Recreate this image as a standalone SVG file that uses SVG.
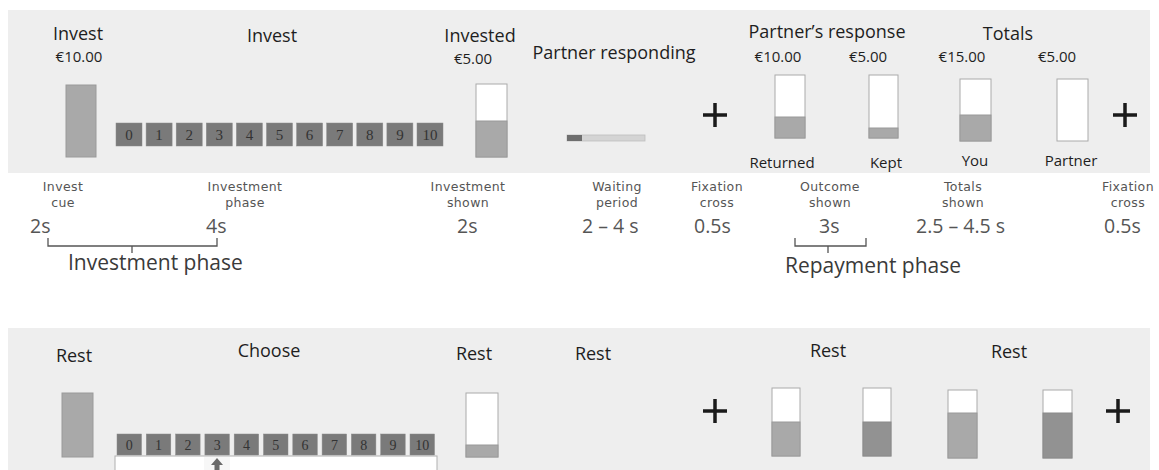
<svg xmlns="http://www.w3.org/2000/svg" width="1159" height="470" viewBox="0 0 1159 470">
<style>
.panel{fill:#eeeeee}
.hd{font-family:"Open Sans","Liberation Sans",sans-serif;font-size:18px;fill:#1e1e1e}
.val{font-family:"Open Sans","Liberation Sans",sans-serif;font-size:15px;fill:#1e1e1e}
.box{fill:#7a7a7a;stroke:#8a8a8a;stroke-width:0.5}
.num{font-family:"Liberation Serif",serif;font-size:15px;fill:#333;text-anchor:middle}
.num2{font-family:"Liberation Serif",serif;font-size:14px;fill:#333;text-anchor:middle}
.full{fill:#a9a9a9;stroke:#9a9a9a;stroke-width:1}
.dark{fill:#929292;stroke:#8a8a8a;stroke-width:1}
.empty{fill:#ffffff;stroke:#aaaaaa;stroke-width:1}
.plus{stroke:#1a1a1a;stroke-width:3.5;fill:none}
.lbl{font-family:"DejaVu Sans","Liberation Sans",sans-serif;font-size:12.5px;fill:#555;text-anchor:middle;letter-spacing:0.4px}
.tm{font-family:"Open Sans","Liberation Sans",sans-serif;font-size:19.5px;fill:#555}
.ph{font-family:"Open Sans","Liberation Sans",sans-serif;font-size:21px;fill:#3a3a3a}
.br{stroke:#555;stroke-width:1.3;fill:none}
.mid{text-anchor:middle}
</style>
<rect width="1159" height="470" fill="#ffffff"/>

<g id="top-panel">
<rect class="panel" x="8" y="10" width="1142" height="163"/>
</g>
<g id="invest-cue">
<text class="hd mid" x="78" y="40">Invest</text>
<text class="val mid" x="79" y="62">€10.00</text>
<rect class="full" x="66" y="85" width="30" height="72"/>
</g>
<g id="invest-choice">
<text class="hd mid" x="272" y="42">Invest</text>
<g>
<rect class="box" x="116" y="123" width="26" height="23"/><text class="num" x="129" y="140">0</text>
<rect class="box" x="146.1" y="123" width="26" height="23"/><text class="num" x="159.1" y="140">1</text>
<rect class="box" x="176.2" y="123" width="26" height="23"/><text class="num" x="189.2" y="140">2</text>
<rect class="box" x="206.3" y="123" width="26" height="23"/><text class="num" x="219.3" y="140">3</text>
<rect class="box" x="236.4" y="123" width="26" height="23"/><text class="num" x="249.4" y="140">4</text>
<rect class="box" x="266.5" y="123" width="26" height="23"/><text class="num" x="279.5" y="140">5</text>
<rect class="box" x="296.6" y="123" width="26" height="23"/><text class="num" x="309.6" y="140">6</text>
<rect class="box" x="326.7" y="123" width="26" height="23"/><text class="num" x="339.7" y="140">7</text>
<rect class="box" x="356.8" y="123" width="26" height="23"/><text class="num" x="369.8" y="140">8</text>
<rect class="box" x="386.9" y="123" width="26" height="23"/><text class="num" x="399.9" y="140">9</text>
<rect class="box" x="417" y="123" width="26" height="23"/><text class="num" x="430" y="140">10</text>
</g>
</g>
<g id="invested">
<text class="hd mid" x="480" y="42">Invested</text>
<text class="val mid" x="473" y="64">€5.00</text>
<rect class="empty" x="476" y="84" width="31" height="73"/>
<rect class="full" x="476" y="121" width="31" height="36"/>
</g>
<g id="partner-responding">
<text class="hd mid" x="614" y="59">Partner responding</text>
<rect x="567" y="135" width="78" height="6" fill="#d4d4d4" stroke="#bdbdbd" stroke-width="0.8"/>
<rect x="567" y="135" width="15" height="6" fill="#6e6e6e"/>
</g>
<g id="fixation-1">
<path class="plus" d="M703,115 H727 M715,103 V127"/>
</g>
<g id="partners-response">
<text class="hd mid" x="827" y="38">Partner’s response</text>
<text class="val mid" x="778" y="62">€10.00</text>
<rect class="empty" x="775" y="75" width="30" height="63"/>
<rect class="full" x="775" y="117" width="30" height="21"/>
<text class="val mid" x="782" y="168">Returned</text>
<text class="val mid" x="868" y="62">€5.00</text>
<rect class="empty" x="869" y="75" width="29" height="63"/>
<rect class="full" x="869" y="128" width="29" height="10"/>
<text class="val mid" x="886" y="168">Kept</text>
</g>
<g id="totals">
<text class="hd mid" x="1008" y="40">Totals</text>
<text class="val mid" x="962" y="62">€15.00</text>
<rect class="empty" x="960" y="79" width="31" height="62"/>
<rect class="full" x="960" y="115" width="31" height="26"/>
<text class="val mid" x="975" y="166">You</text>
<text class="val mid" x="1057" y="62">€5.00</text>
<rect class="empty" x="1057" y="79" width="31" height="62"/>
<text class="val mid" x="1071" y="166">Partner</text>
</g>
<g id="fixation-2">
<path class="plus" d="M1113,115 H1137 M1125,103 V127"/>
</g>

<g id="timeline-labels">
<text class="lbl" x="63" y="191">Invest</text><text class="lbl" x="63" y="207">cue</text>
<text class="lbl" x="245" y="191">Investment</text><text class="lbl" x="245" y="207">phase</text>
<text class="lbl" x="468" y="191">Investment</text><text class="lbl" x="468" y="207">shown</text>
<text class="lbl" x="617" y="191">Waiting</text><text class="lbl" x="617" y="207">period</text>
<text class="lbl" x="717" y="191">Fixation</text><text class="lbl" x="717" y="207">cross</text>
<text class="lbl" x="830" y="191">Outcome</text><text class="lbl" x="830" y="207">shown</text>
<text class="lbl" x="963" y="191">Totals</text><text class="lbl" x="963" y="207">shown</text>
<text class="lbl" x="1128" y="191">Fixation</text><text class="lbl" x="1128" y="207">cross</text>
</g>
<g id="timings">
<text class="tm" x="30" y="233">2s</text>
<text class="tm" x="206" y="233">4s</text>
<text class="tm" x="457" y="233">2s</text>
<text class="tm" x="582" y="233">2 – 4 s</text>
<text class="tm" x="694" y="233">0.5s</text>
<text class="tm" x="819" y="233">3s</text>
<text class="tm" x="916" y="233">2.5 – 4.5 s</text>
<text class="tm" x="1104" y="233">0.5s</text>
</g>
<g id="connectors">
<path class="br" d="M48,238 V246 H217 V238 M132,246 V253"/>
<path class="br" d="M795,238 V246 H866 V238 M828,246 V253"/>
</g>
<g id="phase-labels">
<text class="ph" x="68" y="270">Investment phase</text>
<text class="ph" x="785" y="273">Repayment phase</text>
</g>

<g id="bottom-panel">
<rect class="panel" x="8" y="328" width="1142" height="142"/>
</g>
<g id="rest-1">
<text class="hd mid" x="74" y="362">Rest</text>
<rect class="full" x="62" y="393" width="31" height="64"/>
</g>
<g id="choose">
<text class="hd mid" x="269" y="357">Choose</text>
<rect x="115" y="456" width="322" height="20" fill="#ffffff" stroke="#b0b0b0" stroke-width="1"/>
<g>
<rect class="box" x="117" y="434" width="24.5" height="21"/><text class="num2" x="129.3" y="450">0</text>
<rect class="box" x="146.3" y="434" width="24.5" height="21"/><text class="num2" x="158.6" y="450">1</text>
<rect class="box" x="175.6" y="434" width="24.5" height="21"/><text class="num2" x="187.9" y="450">2</text>
<rect class="box" x="204.9" y="434" width="24.5" height="21"/><text class="num2" x="217.2" y="450">3</text>
<rect class="box" x="234.2" y="434" width="24.5" height="21"/><text class="num2" x="246.5" y="450">4</text>
<rect class="box" x="263.5" y="434" width="24.5" height="21"/><text class="num2" x="275.8" y="450">5</text>
<rect class="box" x="292.8" y="434" width="24.5" height="21"/><text class="num2" x="305.1" y="450">6</text>
<rect class="box" x="322.1" y="434" width="24.5" height="21"/><text class="num2" x="334.4" y="450">7</text>
<rect class="box" x="351.4" y="434" width="24.5" height="21"/><text class="num2" x="363.7" y="450">8</text>
<rect class="box" x="380.7" y="434" width="24.5" height="21"/><text class="num2" x="393" y="450">9</text>
<rect class="box" x="410" y="434" width="24.5" height="21"/><text class="num2" x="422.3" y="450">10</text>
</g>
<rect x="204" y="457" width="26" height="13" fill="#f7f7f7"/>
<path d="M217,458 L223,465 H219.5 V470 H214.5 V465 H211 Z" fill="#6a6a6a"/>
</g>
<g id="rest-2">
<text class="hd mid" x="474" y="360">Rest</text>
<rect class="empty" x="466" y="393" width="32" height="64"/>
<rect class="full" x="466" y="445" width="32" height="12"/>
</g>
<g id="rest-3">
<text class="hd mid" x="593" y="360">Rest</text>
</g>
<g id="fixation-3">
<path class="plus" d="M703,411 H727 M715,399 V423"/>
</g>
<g id="rest-4">
<text class="hd mid" x="828" y="357">Rest</text>
<rect class="empty" x="772" y="388" width="28" height="68"/>
<rect class="full" x="772" y="422" width="28" height="34"/>
<rect class="empty" x="863" y="388" width="28" height="68"/>
<rect class="dark" x="863" y="422" width="28" height="34"/>
</g>
<g id="rest-5">
<text class="hd mid" x="1009" y="358">Rest</text>
<rect class="empty" x="948" y="390" width="29" height="68"/>
<rect class="full" x="948" y="413" width="29" height="45"/>
<rect class="empty" x="1043" y="390" width="29" height="68"/>
<rect class="dark" x="1043" y="413" width="29" height="45"/>
</g>
<g id="fixation-4">
<path class="plus" d="M1106,411 H1130 M1118,399 V423"/>
</g>
</svg>
